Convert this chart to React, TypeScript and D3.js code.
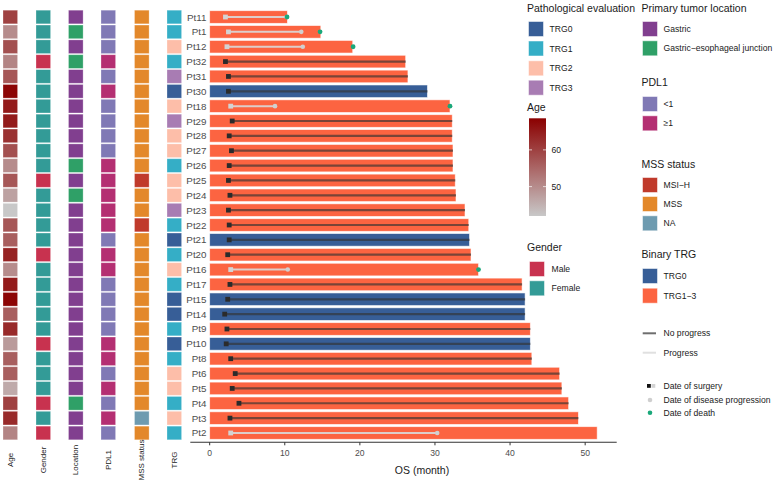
import React from 'react';
import * as d3 from 'd3';

const patients = ['Pt11','Pt1','Pt12','Pt32','Pt31','Pt30','Pt18','Pt29','Pt28','Pt27','Pt26','Pt25','Pt24','Pt23','Pt22','Pt21','Pt20','Pt16','Pt17','Pt15','Pt14','Pt9','Pt10','Pt8','Pt6','Pt5','Pt4','Pt3','Pt2'];
const osMonths = [10.35,14.8,19.05,26.1,26.4,29.0,32.0,32.3,32.3,32.4,32.4,32.7,32.8,34.0,34.5,34.6,34.8,35.8,41.6,42.0,42.0,42.7,42.7,42.9,46.6,46.9,47.8,49.1,51.6];
const surgery = [2.1,2.5,2.3,2.1,2.5,2.5,2.8,3.0,2.6,2.9,2.6,2.5,2.7,2.5,2.6,2.6,2.4,2.8,2.7,2.4,2.0,2.3,2.2,2.8,3.4,3.0,3.9,2.7,2.8];
const progression: (number | null)[] = [10.25,12.2,12.4,null,null,null,8.7,null,null,null,null,null,null,null,null,null,null,10.4,null,null,null,null,null,null,null,null,null,null,30.3];
const death: (number | null)[] = [10.3,14.7,19.1,null,null,null,32.0,null,null,null,null,null,null,null,null,null,null,35.8,null,null,null,null,null,null,null,null,null,null,null];
const ages = [60,50,58,51,57,68,65,65,62,58,50,57,47,42,57,56,64,50,65,68,56,63,48,56,56,46,60,63,51];
const gender = ['Female','Female','Female','Male','Female','Female','Female','Female','Female','Female','Female','Male','Female','Female','Female','Female','Male','Female','Female','Female','Female','Female','Male','Female','Female','Female','Male','Female','Male'];
const location = ['G','GEJ','G','GEJ','G','G','G','G','G','G','GEJ','G','GEJ','G','G','G','G','G','G','G','G','G','G','G','G','G','GEJ','G','G'];
const pdl1 = ['<1','<1','<1','≥1','<1','≥1','<1','<1','<1','<1','≥1','≥1','≥1','≥1','≥1','<1','≥1','≥1','<1','<1','<1','<1','≥1','≥1','<1','≥1','<1','≥1','<1'];
const mss = ['MSS','MSS','MSS','MSS','MSS','MSS','MSS','MSS','MSS','MSS','MSS','MSI-H','MSS','MSS','MSI-H','MSS','MSS','MSS','MSS','MSS','MSS','MSS','MSS','MSS','MSS','MSS','MSS','NA','MSS'];
const trg = ['TRG1','TRG1','TRG2','TRG1','TRG3','TRG0','TRG2','TRG3','TRG2','TRG2','TRG1','TRG2','TRG2','TRG3','TRG1','TRG0','TRG1','TRG2','TRG1','TRG0','TRG0','TRG1','TRG0','TRG1','TRG2','TRG2','TRG1','TRG2','TRG1'];
const xTicks = [0, 10, 20, 30, 40, 50];
const columnLabels = ['Age','Gender','Location','PDL1','MSS status','TRG'];

const trgColors: Record<string, string> = { TRG0: '#375e97', TRG1: '#35aec6', TRG2: '#fdbea9', TRG3: '#a87cb3' };
const genderColors: Record<string, string> = { Male: '#c8324f', Female: '#339b97' };
const locColors: Record<string, string> = { G: '#813f8f', GEJ: '#2fa067' };
const pdlColors: Record<string, string> = { '<1': '#8079b5', '≥1': '#b42f72' };
const mssColors: Record<string, string> = { 'MSI-H': '#c03a2b', MSS: '#e3882a', NA: '#6e9bb0' };
const binColors = { TRG0: '#375e97', other: '#fc6441' };
const deathColor = '#1aa87a';

const FONT = '"Liberation Sans", Arial, Helvetica, sans-serif';

export default function App() {
  const W = 775, H = 483;
  const x = d3.scaleLinear().domain([-2.58, 54.2]).range([190.3, 616.7]);
  const y = d3.scaleBand<string>().domain(patients).range([8.1, 441.9]).paddingOuter(0.1).paddingInner(0);
  const step = y.step();
  const barH = step * 0.85;
  const ageColor = d3.scaleLinear<string>().domain([42, 68.6]).range(['#c8c8c8', '#8b0000']).interpolate(d3.interpolateRgb).clamp(true);

  const colX = [3, 36, 68.5, 101, 134.5, 167];
  const cellW = 14.6;
  const colFill = (c: number, i: number) => {
    switch (c) {
      case 0: return ageColor(ages[i]);
      case 1: return genderColors[gender[i]];
      case 2: return locColors[location[i]];
      case 3: return pdlColors[pdl1[i]];
      case 4: return mssColors[mss[i]];
      default: return trgColors[trg[i]];
    }
  };

  const axisY = 442.3;
  const LF = 8.6;

  const L1 = 528.5, L1t = 549.5, L2 = 642.5, L2t = 663.5;
  const keySize = 15;
  const title = (tx: number, ty: number, t: string) => (
    <text x={tx} y={ty} fontSize={10.5} fill="#1a1a1a" dominantBaseline="central">{t}</text>
  );
  const key = (kx: number, ky: number, col: string, label: string, lx: number) => (
    <g key={label + ky}>
      <rect x={kx} y={ky - keySize / 2} width={keySize} height={keySize} fill={col} stroke="#ffffff" strokeOpacity={0.5} strokeWidth={1} />
      <text x={lx} y={ky} fontSize={LF} fill="#1a1a1a" dominantBaseline="central">{label}</text>
    </g>
  );

  const ageLegTop = 118.3, ageLegBot = 216;
  const ageLegScale = d3.scaleLinear().domain([42, 68.6]).range([ageLegBot, ageLegTop]);
  const gradStops = d3.range(0, 1.0001, 0.1);

  return (
    <svg width={W} height={H} style={{ position: 'absolute', left: 0, top: 0, fontFamily: FONT }}>
      <defs>
        <linearGradient id="ageGrad" x1="0" y1="1" x2="0" y2="0">
          {gradStops.map((t) => (
            <stop key={t} offset={t} stopColor={ageColor(42 + t * (68.6 - 42))} />
          ))}
        </linearGradient>
      </defs>
      <rect width={W} height={H} fill="#ffffff" />

      {patients.map((p, i) =>
        colX.map((cx, c) => (
          <rect key={p + c} x={cx} y={(y(p) as number) + 0.6} width={cellW} height={step - 1.2}
            fill={colFill(c, i)} stroke="#ffffff" strokeOpacity={0.35} strokeWidth={0.8} />
        ))
      )}
      {columnLabels.map((lab, c) => (
        <text key={lab} transform={`translate(${colX[c] + cellW / 2 + 2.5},460) rotate(-90)`} textAnchor="middle"
          fontSize={8} fill="#1a1a1a">{lab}</text>
      ))}

      {patients.map((p) => (
        <text key={p} x={206.5} y={(y(p) as number) + step / 2} textAnchor="end" dominantBaseline="central"
          fontSize={9.8} fill="#4d4d4d">{p}</text>
      ))}

      {patients.map((p, i) => (
        <rect key={p} x={x(0)} y={(y(p) as number) + (step - barH) / 2} width={x(osMonths[i]) - x(0)} height={barH}
          fill={trg[i] === 'TRG0' ? binColors.TRG0 : binColors.other} stroke="#ffffff" strokeOpacity={0.7} strokeWidth={0.8} />
      ))}

      {patients.map((p, i) => {
        const cy = (y(p) as number) + step / 2;
        const prog = progression[i];
        const dth = death[i];
        const hasProg = prog !== null;
        return (
          <g key={p}>
            {hasProg ? (
              <line x1={x(surgery[i])} x2={x(prog as number)} y1={cy} y2={cy} stroke="#d9d9d9" strokeOpacity={0.9} strokeWidth={2} />
            ) : (
              <line x1={x(surgery[i])} x2={x(osMonths[i])} y1={cy} y2={cy} stroke="#333333" strokeOpacity={0.65} strokeWidth={2.2} />
            )}
            <rect x={x(surgery[i]) - 2.4} y={cy - 2.4} width={4.8} height={4.8} fill={hasProg ? '#d3d3d3' : '#2b2b2b'} />
            {hasProg && <circle cx={x(prog as number)} cy={cy} r={2.3} fill="#d0d0d0" />}
            {dth !== null && <circle cx={x(dth as number)} cy={cy} r={2.4} fill={deathColor} />}
          </g>
        );
      })}

      <line x1={x.range()[0]} x2={x.range()[1]} y1={axisY} y2={axisY} stroke="#333333" strokeWidth={1.1} />
      {xTicks.map((t) => (
        <g key={t}>
          <line x1={x(t)} x2={x(t)} y1={axisY} y2={axisY + 3} stroke="#333333" strokeWidth={1} />
          <text x={x(t)} y={axisY + 11} textAnchor="middle" dominantBaseline="central" fontSize={8.6} fill="#4d4d4d">{t}</text>
        </g>
      ))}
      <text x={422} y={470} textAnchor="middle" dominantBaseline="central" fontSize={10.5} fill="#1a1a1a">OS (month)</text>

      {title(527, 7.5, 'Pathological evaluation')}
      {['TRG0','TRG1','TRG2','TRG3'].map((t, k) => key(L1, [29, 48.5, 68.3, 87.7][k], trgColors[t], t, L1t))}
      {title(527, 106.7, 'Age')}
      <rect x={529} y={ageLegTop} width={17} height={ageLegBot - ageLegTop} fill="url(#ageGrad)" />
      {[50, 60].map((a) => (
        <g key={a}>
          <line x1={529} x2={532} y1={ageLegScale(a)} y2={ageLegScale(a)} stroke="#ffffff" strokeOpacity={0.7} />
          <line x1={543} x2={546} y1={ageLegScale(a)} y2={ageLegScale(a)} stroke="#ffffff" strokeOpacity={0.7} />
          <text x={551.5} y={ageLegScale(a)} fontSize={LF} fill="#1a1a1a" dominantBaseline="central">{a}</text>
        </g>
      ))}
      {title(527, 246.7, 'Gender')}
      {key(L1 + 1, 269, genderColors.Male, 'Male', L1t + 2)}
      {key(L1 + 1, 288.3, genderColors.Female, 'Female', L1t + 2)}

      {title(641.5, 7.5, 'Primary tumor location')}
      {key(L2, 29, locColors.G, 'Gastric', L2t)}
      {key(L2, 48.3, locColors.GEJ, 'Gastric\u2212esophageal junction', L2t)}
      {title(641.5, 81.7, 'PDL1')}
      {key(L2, 104, pdlColors['<1'], '<1', L2t)}
      {key(L2, 123.3, pdlColors['≥1'], '≥1', L2t)}
      {title(641.5, 164, 'MSS status')}
      {key(L2, 185, mssColors['MSI-H'], 'MSI\u2212H', L2t)}
      {key(L2, 204, mssColors.MSS, 'MSS', L2t)}
      {key(L2, 223.3, mssColors.NA, 'NA', L2t)}
      {title(641.5, 254.3, 'Binary TRG')}
      {key(L2, 276, binColors.TRG0, 'TRG0', L2t)}
      {key(L2, 295.7, binColors.other, 'TRG1\u22123', L2t)}

      <line x1={642.7} x2={656} y1={333.3} y2={333.3} stroke="#6e6e6e" strokeWidth={2} />
      <text x={L2t} y={333.3} fontSize={LF} fill="#1a1a1a" dominantBaseline="central">No progress</text>
      <line x1={642.7} x2={656} y1={352.7} y2={352.7} stroke="#e0e0e0" strokeWidth={2} />
      <text x={L2t} y={352.7} fontSize={LF} fill="#1a1a1a" dominantBaseline="central">Progress</text>

      <rect x={647} y={384} width={3.8} height={3.8} fill="#111111" />
      <rect x={651.5} y={384} width={3.8} height={3.8} fill="#d3d3d3" />
      <text x={L2t} y={386} fontSize={LF} fill="#1a1a1a" dominantBaseline="central">Date of surgery</text>
      <circle cx={650} cy={400} r={2.3} fill="#cfcfcf" />
      <text x={L2t} y={400} fontSize={LF} fill="#1a1a1a" dominantBaseline="central">Date of disease progression</text>
      <circle cx={650} cy={412.7} r={2.3} fill={deathColor} />
      <text x={L2t} y={412.7} fontSize={LF} fill="#1a1a1a" dominantBaseline="central">Date of death</text>
    </svg>
  );
}
